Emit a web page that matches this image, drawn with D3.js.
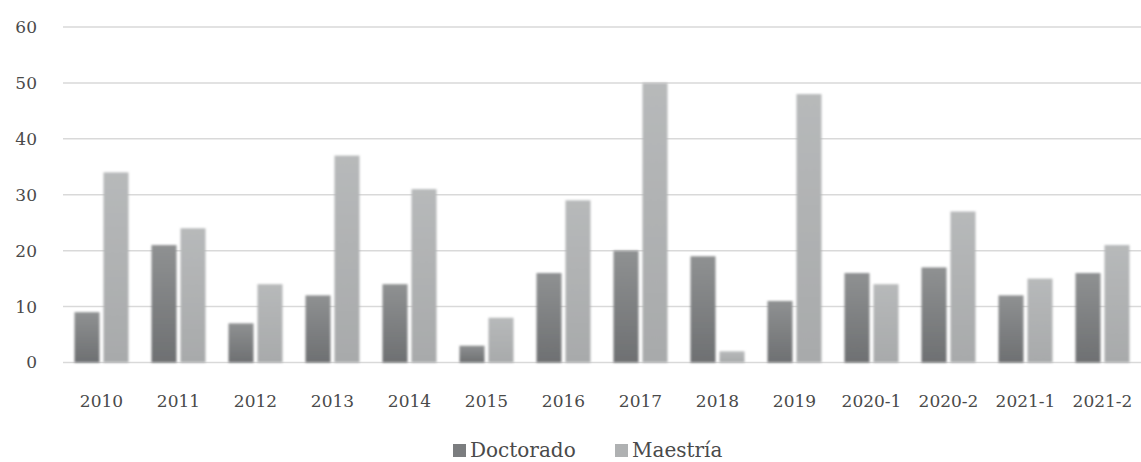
<!DOCTYPE html>
<html lang="es">
<head>
<meta charset="utf-8">
<title>Doctorado y Maestría</title>
<style>
  body { margin: 0; background: #fff; }
  svg text { font-family: "DejaVu Serif", "Liberation Serif", serif; fill: #4a4a4a; }
</style>
</head>
<body>
<script src="https://d3js.org/d3.v7.min.js"></script>
<script>
const periods = ["2010","2011","2012","2013","2014","2015","2016","2017","2018","2019","2020-1","2020-2","2021-1","2021-2"]
const doctorado = [9,21,7,12,14,3,16,20,19,11,16,17,12,16]
const maestria = [34,24,14,37,31,8,29,50,2,48,14,27,15,21]
const seriesNames = ["Doctorado","Maestría"]
const yTicks = [0,10,20,30,40,50,60]

const w = 1141, h = 462
const padL = 63, padR = 1141, padT = 27, padB = 362.5

const svg = d3.select("body").append("svg").attr("width", w).attr("height", h)

const defs = svg.append("defs")
const grads = [["gDoc", "#8f9192", "#6e7072"], ["gMae", "#b7b9ba", "#a8aaab"]]
grads.forEach(([id, c1, c2]) => {
  const g = defs.append("linearGradient").attr("id", id).attr("x1", 0).attr("y1", 0).attr("x2", 0).attr("y2", 1)
  g.append("stop").attr("offset", "0%").attr("stop-color", c1)
  g.append("stop").attr("offset", "100%").attr("stop-color", c2)
})
const f = defs.append("filter").attr("id", "soft").attr("x", "-20%").attr("y", "-5%").attr("width", "140%").attr("height", "110%")
f.append("feGaussianBlur").attr("stdDeviation", 0.9)

const x = d3.scaleBand().domain(periods).range([padL, padR])
const y = d3.scaleLinear().domain([0, 60]).range([padB, padT])

// gridlines
svg.append("g").selectAll("line").data(yTicks).join("line")
  .attr("x1", padL).attr("x2", padR)
  .attr("y1", d => y(d)).attr("y2", d => y(d))
  .attr("stroke", "#d9d9d9").attr("stroke-width", 1.5)

// y labels
svg.append("g").selectAll("text").data(yTicks).join("text")
  .attr("x", 37).attr("y", d => y(d)).attr("dy", "0.35em")
  .attr("text-anchor", "end").style("font-size", "17px")
  .text(d => d)

const bw = 25, gap = 4
const series = [doctorado, maestria]
series.forEach((vals, si) => {
  svg.append("g").attr("filter", "url(#soft)").selectAll("rect").data(vals).join("rect")
    .attr("x", (d, i) => x(periods[i]) + x.bandwidth() / 2 - bw - gap / 2 + si * (bw + gap))
    .attr("y", d => y(d))
    .attr("width", bw)
    .attr("height", d => y(0) - y(d))
    .attr("fill", si === 0 ? "url(#gDoc)" : "url(#gMae)")
})

// x labels
svg.append("g").selectAll("text").data(periods).join("text")
  .attr("x", d => x(d) + x.bandwidth() / 2).attr("y", 401).attr("dy", "0.35em")
  .attr("text-anchor", "middle").style("font-size", "17px")
  .text(d => d)

// legend
const legend = svg.append("g").attr("transform", "translate(453, 450)")
const items = legend.selectAll("g").data(seriesNames).join("g")
  .attr("transform", (d, i) => `translate(${i === 0 ? 0 : 162}, 0)`)
items.append("rect").attr("x", 0).attr("y", -6).attr("width", 13).attr("height", 13)
  .attr("fill", (d, i) => i === 0 ? "#7b7d7f" : "#afb1b2")
items.append("text").attr("x", 17).attr("y", 0).attr("dy", "0.35em")
  .style("font-size", "20px").text(d => d)
</script>
</body>
</html>
